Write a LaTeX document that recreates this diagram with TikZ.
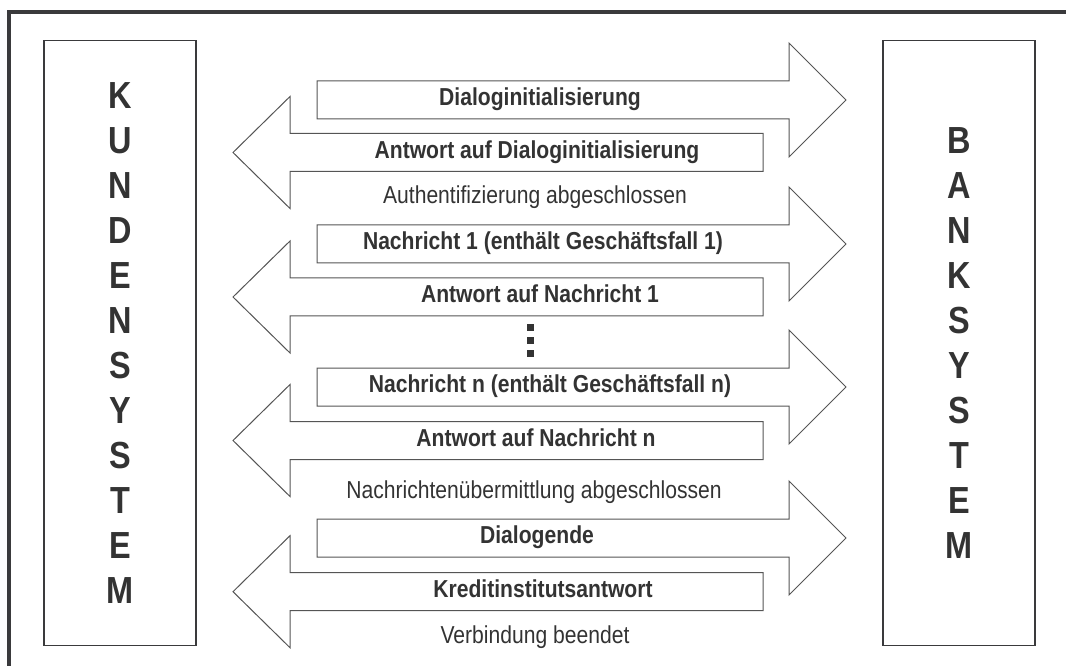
\documentclass[tikz,border=0pt]{standalone}
\usepackage{fontspec}
\setmainfont[FakeStretch=0.86]{Liberation Sans}
\usetikzlibrary{positioning}
\definecolor{ink}{RGB}{51,51,51}
\definecolor{frame}{RGB}{58,58,60}
\definecolor{edge}{RGB}{85,85,85}

\begin{document}
\begin{tikzpicture}[x=0.75pt, y=-0.75pt, font=\fontsize{18.4}{20}\selectfont, text=ink,
  sysbox/.style={draw=frame, line width=1.1pt, minimum width=114pt, minimum height=453.75pt, align=center, inner sep=0pt,
    font=\fontsize{28.3}{33.75}\selectfont\bfseries},
  flow/.style={draw=edge, line width=0.75pt, fill=white},
  msg/.style={font=\fontsize{18.4}{20}\selectfont\bfseries, text height=0.72em, text depth=0pt, inner sep=0pt},
  note/.style={text height=0.72em, text depth=0pt, inner sep=0pt}]
\useasboundingbox (0,0) rectangle (1066,666);
\draw[frame, line width=3pt] (9.3,666) -- (9.3,12) -- (1066,12);

% systems
\node[sysbox] (kunde) at (120,343) {K\\U\\N\\D\\E\\N\\S\\Y\\S\\T\\E\\M};
\node[sysbox] (bank) at (959,343) {B\\A\\N\\K\\S\\Y\\S\\T\\E\\M};

% messages to the bank
\foreach \y in {100,244,387,538}
  \draw[flow] (317,\y-19) -- (789,\y-19) -- (789,\y-57) -- (846,\y) -- (789,\y+57) -- (789,\y+19) -- (317,\y+19) -- cycle;
% answers to the customer
\foreach \y in {152.5,297,440.5,591.7}
  \draw[flow] (763,\y-19) -- (290,\y-19) -- (290,\y-56) -- (233,\y) -- (290,\y+56) -- (290,\y+19) -- (763,\y+19) -- cycle;

\node[msg] (dinit) at (540,101) {Dialoginitialisierung};
\node[msg] (adinit) at (537,153.5) {Antwort auf Dialoginitialisierung};
\node[note] (auth) at (535,199) {Authentifizierung abgeschlossen};
\node[msg] (msg1) at (543,245) {Nachricht 1 (enthält Geschäftsfall 1)};
\node[msg] (ans1) at (540,298) {Antwort auf Nachricht 1};
\node[msg] (msgn) at (550,388) {Nachricht n (enthält Geschäftsfall n)};
\node[msg] (ansn) at (536,441.5) {Antwort auf Nachricht n};
\node[note] (transf) at (534,494) {Nachrichtenübermittlung abgeschlossen};
\node[msg] (dend) at (537,539) {Dialogende};
\node[msg] (kiant) at (543,592.7) {Kreditinstitutsantwort};
\node[note] (closed) at (535,639) {Verbindung beendet};

% ellipsis
\foreach \y in {327,340,353.5}
  \fill[ink] (526.5,\y-3.5) rectangle ++(7,7);
\end{tikzpicture}
\end{document}
